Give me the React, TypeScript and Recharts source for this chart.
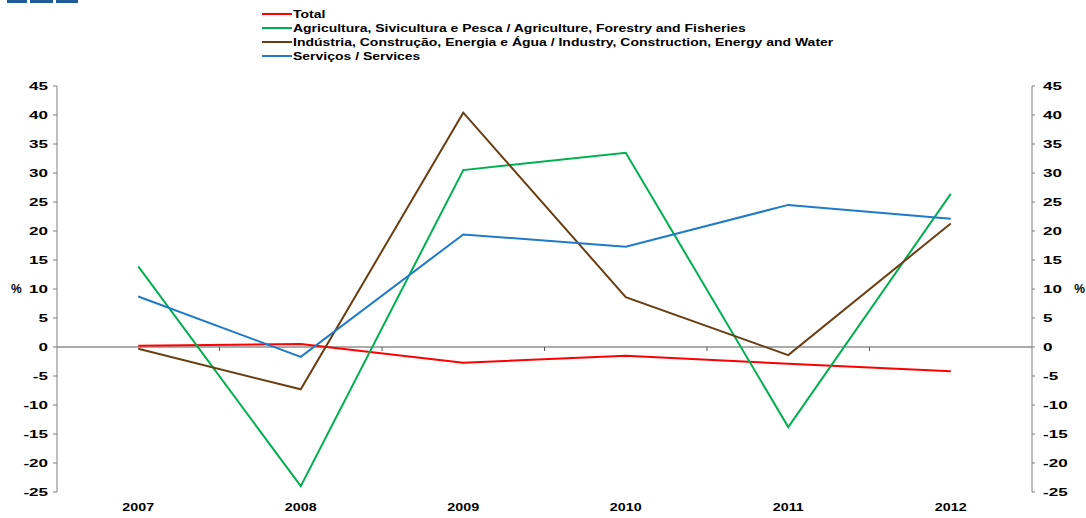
import React from 'react';
import { LineChart, Line, XAxis, YAxis, ReferenceLine, Label } from 'recharts';

const years = ['2007', '2008', '2009', '2010', '2011', '2012'];
const total = [0.2, 0.5, -2.7, -1.5, -2.9, -4.2];
const agriculture = [13.9, -24.0, 30.5, 33.5, -13.8, 26.4];
const industry = [-0.3, -7.3, 40.4, 8.6, -1.4, 21.3];
const services = [8.7, -1.7, 19.4, 17.3, 24.5, 22.1];
const yTicks = [-25, -20, -15, -10, -5, 0, 5, 10, 15, 20, 25, 30, 35, 40, 45];

const seriesNames = [
  'Total',
  'Agricultura, Sivicultura e Pesca / Agriculture, Forestry and Fisheries',
  'Indústria, Construção, Energia e Água / Industry, Construction, Energy and Water',
  'Serviços / Services',
];
const seriesKeys = ['total', 'agriculture', 'industry', 'services'];
const seriesColors = ['#ff0000', '#00b050', '#6b3e12', '#1f7ac8'];

const data = years.map((y, i) => ({
  year: y,
  total: total[i],
  agriculture: agriculture[i],
  industry: industry[i],
  services: services[i],
}));

const FONT = '"Liberation Sans", Arial, sans-serif';

const TickText = (props: any) => {
  const { x, y, payload, textAnchor, sx, vdy } = props;
  return (
    <text
      transform={`translate(${x},${y}) scale(${sx},1)`}
      x={0}
      y={0}
      dy={vdy}
      textAnchor={textAnchor}
      fontFamily={FONT}
      fontWeight="bold"
      fontSize={11}
      fill="#000"
    >
      {payload.value}
    </text>
  );
};

const ZeroLine = (props: any) => {
  const { x1, x2, y1 } = props;
  const n = years.length;
  const step = (x2 - x1) / n;
  const ticks = [];
  for (let i = 1; i < n; i++) {
    const tx = x1 + step * i;
    ticks.push(<line key={i} x1={tx} x2={tx} y1={y1} y2={y1 + 4} stroke="#595959" strokeWidth={1} />);
  }
  return (
    <g>
      <line x1={x1} x2={x2} y1={y1} y2={y1} stroke="#595959" strokeWidth={1.2} />
      {ticks}
    </g>
  );
};

export default function App() {
  return (
    <div style={{ position: 'absolute', left: 0, top: 0, width: 1086, height: 518, background: '#fff' }}>
      <div style={{ position: 'absolute', left: 7, top: 0, width: 20, height: 3, background: '#1f5c99' }} />
      <div style={{ position: 'absolute', left: 30, top: 0, width: 23, height: 3, background: '#1f5c99' }} />
      <div style={{ position: 'absolute', left: 56, top: 0, width: 22, height: 3, background: '#1f5c99' }} />
      <div style={{ position: 'absolute', left: 262, top: 7, fontFamily: FONT, fontWeight: 'bold', fontSize: 11 }}>
        {seriesNames.map((name, i) => (
          <div key={seriesKeys[i]} style={{ height: 14, display: 'flex', alignItems: 'center', whiteSpace: 'nowrap' }}>
            <svg width={31} height={14} style={{ flex: 'none' }}>
              <line x1={0} x2={30} y1={7} y2={7} stroke={seriesColors[i]} strokeWidth={2} />
            </svg>
            <span style={{ display: 'inline-block', transform: 'scaleX(1.27)', transformOrigin: 'left center', lineHeight: '14px' }}>
              {name}
            </span>
          </div>
        ))}
      </div>
      <LineChart
        width={1086}
        height={518}
        data={data}
        margin={{ top: 86, right: 0, bottom: 6, left: 11 }}
        style={{ position: 'absolute', left: 0, top: 0 }}
      >
        <XAxis
          dataKey="year"
          scale="band"
          axisLine={false}
          tickLine={false}
          tickSize={8}
          tickMargin={11}
          height={20}
          interval={0}
          tick={<TickText sx={1.3} vdy={0} />}
        />
        <YAxis
          yAxisId="left"
          domain={[-25, 45]}
          ticks={yTicks}
          interval={0}
          width={46}
          axisLine={{ stroke: '#7f7f7f' }}
          tickLine={{ stroke: '#7f7f7f' }}
          tickSize={4}
          tickMargin={5}
          tick={<TickText sx={1.55} vdy="0.36em" />}
        >
          <Label value="%" position="insideLeft" offset={0} fontFamily={FONT} fontWeight="bold" fontSize={12} fill="#000" />
        </YAxis>
        <YAxis
          yAxisId="right"
          orientation="right"
          domain={[-25, 45]}
          ticks={yTicks}
          interval={0}
          width={54}
          axisLine={{ stroke: '#7f7f7f' }}
          tickLine={{ stroke: '#7f7f7f' }}
          tickSize={3}
          tickMargin={8}
          tick={<TickText sx={1.55} vdy="0.36em" />}
        >
          <Label value="%" position="insideRight" offset={1} fontFamily={FONT} fontWeight="bold" fontSize={12} fill="#000" />
        </YAxis>
        <ReferenceLine yAxisId="left" y={0} shape={<ZeroLine />} />
        {seriesKeys.map((k, i) => (
          <Line
            key={k}
            yAxisId="left"
            type="linear"
            dataKey={k}
            name={seriesNames[i]}
            stroke={seriesColors[i]}
            strokeWidth={2}
            dot={false}
            activeDot={false}
            isAnimationActive={false}
          />
        ))}
        <Line
          yAxisId="right"
          type="linear"
          dataKey="total"
          stroke="none"
          strokeWidth={0}
          dot={false}
          activeDot={false}
          legendType="none"
          isAnimationActive={false}
        />
      </LineChart>
    </div>
  );
}
